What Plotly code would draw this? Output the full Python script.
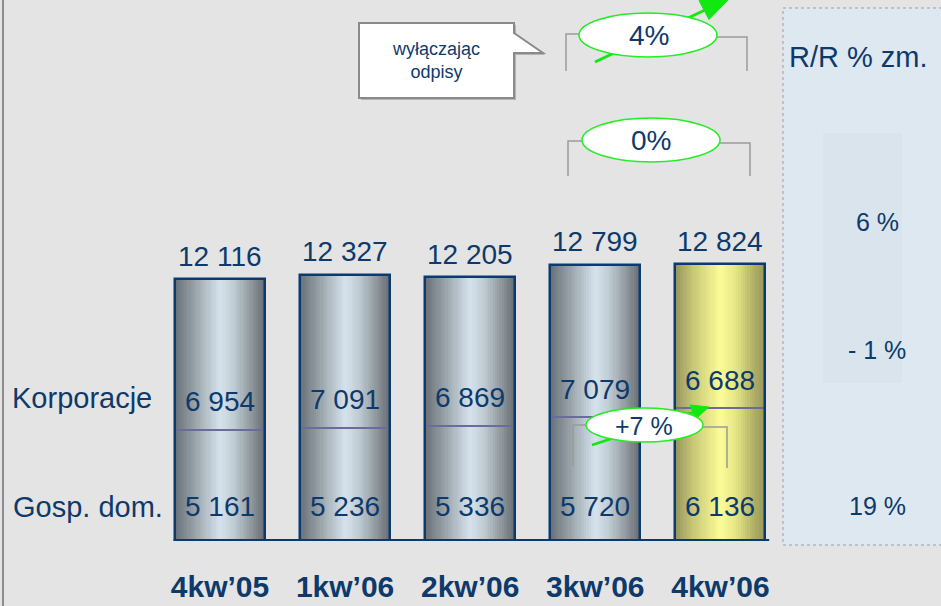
import plotly.graph_objects as go

# ---------------- data ----------------
quarters = ["4kw’05", "1kw’06", "2kw’06", "3kw’06", "4kw’06"]
corporate = [6954, 7091, 6869, 7079, 6688]      # Korporacje
households = [5161, 5236, 5336, 5720, 6136]     # Gosp. dom.
totals = [12116, 12327, 12205, 12799, 12824]
segment_names = ["Korporacje", "Gosp. dom."]
yoy_header = "R/R % zm."
yoy_labels = ["6 %", "- 1 %", "19 %"]
bracket_labels = ["4%", "0%", "+7 %"]
callout_text = "wyłączając<br>odpisy"
highlight = [False, False, False, False, True]

# ---------------- styling ----------------
W, H = 941, 606
MB = 65
PH = H - MB
NAVY = "#0d3a6b"
BG = "#e4e4e4"
GREEN = "#10e810"
FONT = "Liberation Sans, Arial, sans-serif"

def px(x):
    return x / W

def py(y):
    return (PH - y) / PH

def fmt(v):
    return f"{v:,}".replace(",", " ")

gray_stops = [(0.0, (104, 113, 120)), (0.17, (141, 151, 157)), (0.5, (214, 227, 237)),
              (0.65, (192, 204, 212)), (0.86, (140, 148, 154)), (1.0, (100, 106, 112))]
yellow_stops = [(0.0, (150, 150, 92)), (0.2, (200, 200, 120)), (0.5, (252, 252, 152)),
                (0.68, (228, 228, 132)), (0.88, (174, 174, 100)), (1.0, (150, 150, 92))]

def grad(stops, t):
    for (t0, c0), (t1, c1) in zip(stops, stops[1:]):
        if t <= t1:
            f = (t - t0) / (t1 - t0)
            return "rgb(%d,%d,%d)" % tuple(round(a + (b - a) * f) for a, b in zip(c0, c1))
    return "rgb(%d,%d,%d)" % stops[-1][1]

xs = list(range(len(quarters)))
BW = 0.72
K = 40

fig = go.Figure()

# gradient strips (cylinder look)
for k in range(K):
    t = (k + 0.5) / K
    off = -BW / 2 + k * BW / K
    wid = min(BW / K * 1.6, BW / 2 - off)
    colors = [grad(yellow_stops if h else gray_stops, t) for h in highlight]
    fig.add_trace(go.Bar(x=xs, y=totals, width=wid, offset=off,
                         marker=dict(color=colors, line=dict(width=0)),
                         hoverinfo="skip", showlegend=False))

# divider between segments
fig.add_trace(go.Bar(x=xs, y=households, width=BW, offset=-BW / 2, name=segment_names[1],
                     marker=dict(color="rgba(0,0,0,0)", line=dict(color="#6b6b9c", width=2)),
                     showlegend=False))
# outer outline
fig.add_trace(go.Bar(x=xs, y=totals, width=BW, offset=-BW / 2, name="Razem",
                     marker=dict(color="rgba(0,0,0,0)", line=dict(color="#0b3a6e", width=2.5)),
                     showlegend=False))

ann = []
vfont = dict(family=FONT, size=28, color=NAVY)
for i in xs:
    ann.append(dict(x=i, y=totals[i], xref="x", yref="y", text=fmt(totals[i]), showarrow=False,
                    xanchor="center", yanchor="middle", yshift=23, font=vfont))
    ann.append(dict(x=i, y=households[i], xref="x", yref="y", text=fmt(corporate[i]), showarrow=False,
                    xanchor="center", yanchor="middle", yshift=28, font=vfont))
    ann.append(dict(x=i, y=0, xref="x", yref="y", text=fmt(households[i]), showarrow=False,
                    xanchor="center", yanchor="middle", yshift=35, font=vfont))

def pann(x, y, text, size, xanchor="center"):
    return dict(x=px(x), y=py(y), xref="paper", yref="paper", xanchor=xanchor, yanchor="middle",
                text=text, showarrow=False, font=dict(family=FONT, size=size, color=NAVY))

# segment names
ann.append(pann(10, 398, segment_names[0], 29, "left"))
ann.append(pann(11, 507, segment_names[1], 29, "left"))

# right panel texts
ann.append(pann(787, 57, yoy_header, 29, "left"))
for lbl, yy in zip(yoy_labels, [222, 350, 506]):
    ann.append(pann(877, yy, lbl, 25))

# oval labels
for lbl, (cx, cy), sz in zip(bracket_labels, [(649, 36), (651, 141), (644, 426)], [28, 28, 25]):
    ann.append(pann(cx, cy, lbl, sz))

# callout text
ann.append(pann(436, 61, callout_text, 18))

def path(points, close=False):
    s = " ".join(("M" if j == 0 else "L") + f" {px(x):.5f} {py(y):.5f}" for j, (x, y) in enumerate(points))
    return s + (" Z" if close else "")

shapes = []
# right panel
shapes.append(dict(type="rect", xref="paper", yref="paper", x0=px(783), x1=px(945), y0=py(8), y1=py(545),
                   fillcolor="#dee8f0", line=dict(color="#9a9ab8", width=1, dash="dot"), layer="below"))
shapes.append(dict(type="rect", xref="paper", yref="paper", x0=px(823), x1=px(902), y0=py(133), y1=py(383),
                   fillcolor="#d9e4ed", line=dict(width=0), layer="below"))
# left frame
shapes.append(dict(type="line", xref="paper", yref="paper", x0=px(3), x1=px(3), y0=py(-5), y1=py(610),
                   line=dict(color="#8c8c8c", width=2)))
# baseline
shapes.append(dict(type="line", xref="x", yref="y", x0=-BW / 2 - 0.01, x1=len(xs) - 1 + BW / 2 + 0.03,
                   y0=0, y1=0, line=dict(color="#0b3a6e", width=4), layer="above"))
# brackets
bracket_col = dict(color="#9a9a9a", width=1.5)
for pts in [[(566, 71), (566, 34), (582, 34)], [(717, 37), (747, 37), (747, 71)],
            [(568, 176), (568, 141), (586, 141)], [(720, 143), (750, 143), (750, 176)],
            [(573, 466), (573, 425), (588, 425)], [(703, 427), (727, 427), (727, 468)]]:
    shapes.append(dict(type="path", xref="paper", yref="paper", path=path(pts), line=bracket_col, layer="above"))
# green arrows (behind ovals)
shapes.append(dict(type="line", xref="paper", yref="paper", x0=px(595), y0=py(62), x1=px(705), y1=py(10),
                   line=dict(color=GREEN, width=3), layer="above"))
shapes.append(dict(type="path", xref="paper", yref="paper",
                   path=path([(709, 19.5), (731, -3), (699, 0.5)], close=True),
                   fillcolor=GREEN, line=dict(color=GREEN, width=1), layer="above"))
shapes.append(dict(type="line", xref="paper", yref="paper", x0=px(592), y0=py(445), x1=px(694), y1=py(412),
                   line=dict(color=GREEN, width=2.5), layer="above"))
shapes.append(dict(type="path", xref="paper", yref="paper",
                   path=path([(695.5, 419), (709, 407), (690, 405)], close=True),
                   fillcolor=GREEN, line=dict(color=GREEN, width=1), layer="above"))
# ovals
for (x0, x1, y0, y1) in [(579, 717, 13, 57), (582, 720, 118, 162), (586, 703, 408, 442)]:
    shapes.append(dict(type="circle", xref="paper", yref="paper", x0=px(x0), x1=px(x1), y0=py(y1), y1=py(y0),
                       fillcolor="white", line=dict(color="#22ee22", width=1.5), layer="above"))
# callout box with pointer
cb = [(359, 23), (514, 23), (514, 33), (543, 53), (514, 53), (514, 98), (359, 98)]
shapes.append(dict(type="path", xref="paper", yref="paper", path=path([(x + 2, y + 2) for x, y in cb], close=True),
                   fillcolor="#b4b4b4", line=dict(width=0), layer="above"))
shapes.append(dict(type="path", xref="paper", yref="paper", path=path(cb, close=True),
                   fillcolor="white", line=dict(color="#8a8a8a", width=2), layer="above"))

fig.update_layout(
    width=W, height=H,
    margin=dict(l=0, r=0, t=0, b=MB, autoexpand=False),
    paper_bgcolor=BG, plot_bgcolor="rgba(0,0,0,0)",
    barmode="overlay", bargap=0,
    showlegend=False,
    annotations=ann, shapes=shapes,
    xaxis=dict(range=[-220 / 125.1, (W - 220) / 125.1], tickvals=xs, ticktext=quarters,
               showgrid=False, zeroline=False, showline=False, ticks="", automargin=False,
               tickfont=dict(family=FONT, size=30, color=NAVY, weight="bold"),
               ticklabelstandoff=25, fixedrange=True),
    yaxis=dict(range=[0, PH * 46.3], visible=False, showgrid=False, zeroline=False, fixedrange=True,
               automargin=False),
)

fig.write_html(
    "out.html",
    config={"displayModeBar": False},
    post_script="document.body.style.margin='0';document.body.style.background='%s';" % BG,
)
